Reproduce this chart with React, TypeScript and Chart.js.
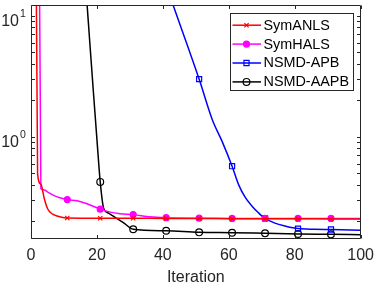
import React, { useEffect, useRef } from 'react';
import { Chart, registerables } from 'chart.js';

Chart.register(...registerables);

const FONT = '"Liberation Sans", Arial, Helvetica, sans-serif';
const AXIS_COLOR = '#262626';

const seriesNames = ['SymANLS', 'SymHALS', 'NSMD-APB', 'NSMD-AAPB'];
const seriesColors = ['#ff0000', '#ff00ff', '#0000ff', '#000000'];
const seriesMarkers = ['crossRot', 'circle', 'rect', 'circle'];
const seriesMarkerFill = ['rgba(0,0,0,0)', '#ff00ff', 'rgba(0,0,0,0)', 'rgba(0,0,0,0)'];
const seriesMarkerRadius = [3, 3, 3.6, 3.4];

// SymANLS
const anlsIter = [1, 2, 3, 4, 5, 6, 7, 9, 11, 21, 31, 41, 51, 61, 71, 81, 91, 100];
const anlsVal = [1e4, 0.49, 0.405, 0.31, 0.255, 0.235, 0.226, 0.217, 0.213, 0.212, 0.212, 0.211, 0.211, 0.21, 0.21, 0.21, 0.209, 0.209];

// SymHALS
const halsIter = [1, 2, 3, 4, 5, 6, 7, 9, 11, 14, 17, 19, 21, 24, 27, 31, 36, 41, 51, 61, 71, 81, 91, 100];
const halsVal = [1e4, 5e3, 0.372, 0.362, 0.35, 0.337, 0.326, 0.311, 0.302, 0.295, 0.279, 0.265, 0.252, 0.238, 0.231, 0.227, 0.218, 0.214, 0.212, 0.211, 0.211, 0.211, 0.211, 0.211];

// NSMD-APB
const apbIter = [1, 11, 21, 31, 41, 51, 55, 58, 61, 63, 65, 67, 69, 71, 74, 77, 81, 86, 91, 100];
const apbVal = [1e4, 3000, 700, 120, 17.9, 2.99, 1.38, 0.91, 0.57, 0.4, 0.315, 0.268, 0.235, 0.211, 0.193, 0.183, 0.174, 0.172, 0.171, 0.169];

// NSMD-AAPB
const aapbIter = [1, 11, 15, 16, 17, 18, 19, 20, 21, 22, 23, 24, 26, 28, 31, 41, 51, 61, 71, 81, 91, 100];
const aapbVal = [1e4, 2000, 70, 30, 12.5, 5.2, 2.2, 0.95, 0.423, 0.258, 0.238, 0.229, 0.211, 0.195, 0.172, 0.167, 0.162, 0.161, 0.159, 0.157, 0.156, 0.155];

const seriesIters = [anlsIter, halsIter, apbIter, aapbIter];
const seriesVals = [anlsVal, halsVal, apbVal, aapbVal];

const markerIters = [1, 11, 21, 31, 41, 51, 61, 71, 81, 91];

const xMin = 0;
const xMax = 100;
const xStep = 20;
const xTickValues = [0, 20, 40, 60, 80, 100];
const yMin = 0.1455;
const yMax = 12.2;
const yTickValues = [0.2, 0.3, 0.4, 0.5, 0.6, 0.7, 0.8, 0.9, 1, 2, 3, 4, 5, 6, 7, 8, 9, 10];
const yLabelValues = [1, 10];
const yLabelExponents = ['0', '1'];
const xTitle = 'Iteration';

function drawMarker(ctx: CanvasRenderingContext2D, style: string, x: number, y: number, r: number, color: string, fill: string) {
  ctx.save();
  ctx.strokeStyle = color;
  ctx.fillStyle = fill;
  ctx.lineWidth = 1.2;
  ctx.beginPath();
  if (style === 'crossRot') {
    const d = r * Math.SQRT1_2;
    ctx.moveTo(x - d, y - d);
    ctx.lineTo(x + d, y + d);
    ctx.moveTo(x - d, y + d);
    ctx.lineTo(x + d, y - d);
    ctx.stroke();
  } else if (style === 'rect') {
    const s = r * Math.SQRT1_2;
    ctx.rect(x - s, y - s, 2 * s, 2 * s);
    ctx.fill();
    ctx.stroke();
  } else {
    ctx.arc(x, y, r, 0, Math.PI * 2);
    ctx.fill();
    ctx.stroke();
  }
  ctx.restore();
}

const framePlugin = {
  id: 'matlabFrame',
  afterDatasetsDraw(chart: any) {
    const { ctx, chartArea: a, scales } = chart;
    const xs = scales.x;
    const ys = scales.y;
    const L = Math.floor(a.left) + 0.5;
    const R = Math.floor(a.right) + 0.5;
    const T = Math.floor(a.top) + 0.5;
    const B = Math.floor(a.bottom) + 0.5;
    ctx.save();
    ctx.strokeStyle = AXIS_COLOR;
    ctx.lineWidth = 1;
    ctx.beginPath();
    ctx.rect(L, T, R - L, B - T);
    ctx.stroke();
    const tl = 3.5;
    ctx.beginPath();
    for (const v of xTickValues) {
      const px = Math.round(xs.getPixelForValue(v)) + 0.5;
      ctx.moveTo(px, B);
      ctx.lineTo(px, B - tl);
      ctx.moveTo(px, T);
      ctx.lineTo(px, T + tl);
    }
    for (const v of yTickValues) {
      const py = Math.round(ys.getPixelForValue(v)) + 0.5;
      ctx.moveTo(L, py);
      ctx.lineTo(L + tl, py);
      ctx.moveTo(R, py);
      ctx.lineTo(R - tl, py);
    }
    ctx.stroke();

    ctx.fillStyle = AXIS_COLOR;
    yLabelValues.forEach((v, i) => {
      const py = ys.getPixelForValue(v);
      ctx.font = `16px ${FONT}`;
      ctx.textAlign = 'right';
      ctx.textBaseline = 'alphabetic';
      ctx.fillText('10', a.left - 12, py + 10);
      ctx.font = `10.5px ${FONT}`;
      ctx.textAlign = 'left';
      ctx.fillText(yLabelExponents[i], a.left - 11, py + 1.7);
    });
    ctx.restore();
  },
  afterDraw(chart: any) {
    const { ctx, chartArea: a } = chart;
    const left = Math.floor(a.right) - 130 + 0.5;
    const right = Math.floor(a.right) - 7 + 0.5;
    const top = Math.floor(a.top) + 8 + 0.5;
    const bottom = top + 77;
    ctx.save();
    ctx.fillStyle = '#ffffff';
    ctx.fillRect(left, top, right - left, bottom - top);
    ctx.strokeStyle = AXIS_COLOR;
    ctx.lineWidth = 1;
    ctx.strokeRect(left, top, right - left, bottom - top);
    seriesNames.forEach((name, i) => {
      const y = top + 11.7 + i * 18.9;
      ctx.strokeStyle = seriesColors[i];
      ctx.lineWidth = 1.5;
      ctx.beginPath();
      ctx.moveTo(left + 2, y);
      ctx.lineTo(left + 30.5, y);
      ctx.stroke();
      drawMarker(ctx, seriesMarkers[i], left + 16, y, seriesMarkerRadius[i], seriesColors[i], seriesMarkerFill[i]);
      ctx.fillStyle = '#000000';
      ctx.font = `14.4px ${FONT}`;
      ctx.textAlign = 'left';
      ctx.textBaseline = 'middle';
      ctx.fillText(name, left + 33, y + 0.5);
    });
    ctx.restore();
  },
};

export default function App() {
  const ref = useRef<HTMLCanvasElement>(null);
  useEffect(() => {
    document.body.style.margin = '0';
    const datasets = seriesNames.map((name, i) => ({
      label: name,
      data: seriesIters[i].map((x, k) => ({ x, y: seriesVals[i][k] })),
      borderColor: seriesColors[i],
      backgroundColor: seriesMarkerFill[i],
      borderWidth: 1.5,
      pointStyle: seriesMarkers[i] as any,
      pointRadius: (c: any) => (c.raw && markerIters.includes(c.raw.x) ? seriesMarkerRadius[i] : 0),
      pointBorderColor: seriesColors[i],
      pointBackgroundColor: seriesMarkerFill[i],
      pointBorderWidth: 1.2,
      cubicInterpolationMode: 'monotone' as const,
      fill: false,
    }));
    const chart = new Chart(ref.current as HTMLCanvasElement, {
      type: 'line',
      data: { datasets },
      options: {
        animation: false,
        responsive: false,
        maintainAspectRatio: false,
        devicePixelRatio: 1,
        layout: { padding: { top: 1.5, right: 14, left: 0, bottom: 0 } },
        plugins: { legend: { display: false }, tooltip: { enabled: false } },
        scales: {
          x: {
            type: 'linear',
            min: xMin,
            max: xMax,
            afterFit: (s: any) => {
              s.height = 49;
            },
            grid: { display: false, drawTicks: false, tickLength: 0 },
            border: { display: false },
            ticks: {
              stepSize: xStep,
              padding: 8,
              color: AXIS_COLOR,
              font: { family: FONT, size: 16 },
              maxRotation: 0,
              autoSkip: false,
            },
            title: {
              display: true,
              text: xTitle,
              color: AXIS_COLOR,
              font: { family: FONT, size: 16 },
              padding: { top: 0, bottom: 0 },
            },
          },
          y: {
            type: 'logarithmic',
            min: yMin,
            max: yMax,
            afterFit: (s: any) => {
              s.width = 31;
            },
            grid: { display: false, drawTicks: false },
            border: { display: false },
            ticks: { display: false },
          },
        },
      },
      plugins: [framePlugin],
    } as any);
    return () => chart.destroy();
  }, []);
  return (
    <div style={{ width: 382, height: 287, background: '#ffffff' }}>
      <canvas ref={ref} width={382} height={287} style={{ display: 'block' }} />
    </div>
  );
}
